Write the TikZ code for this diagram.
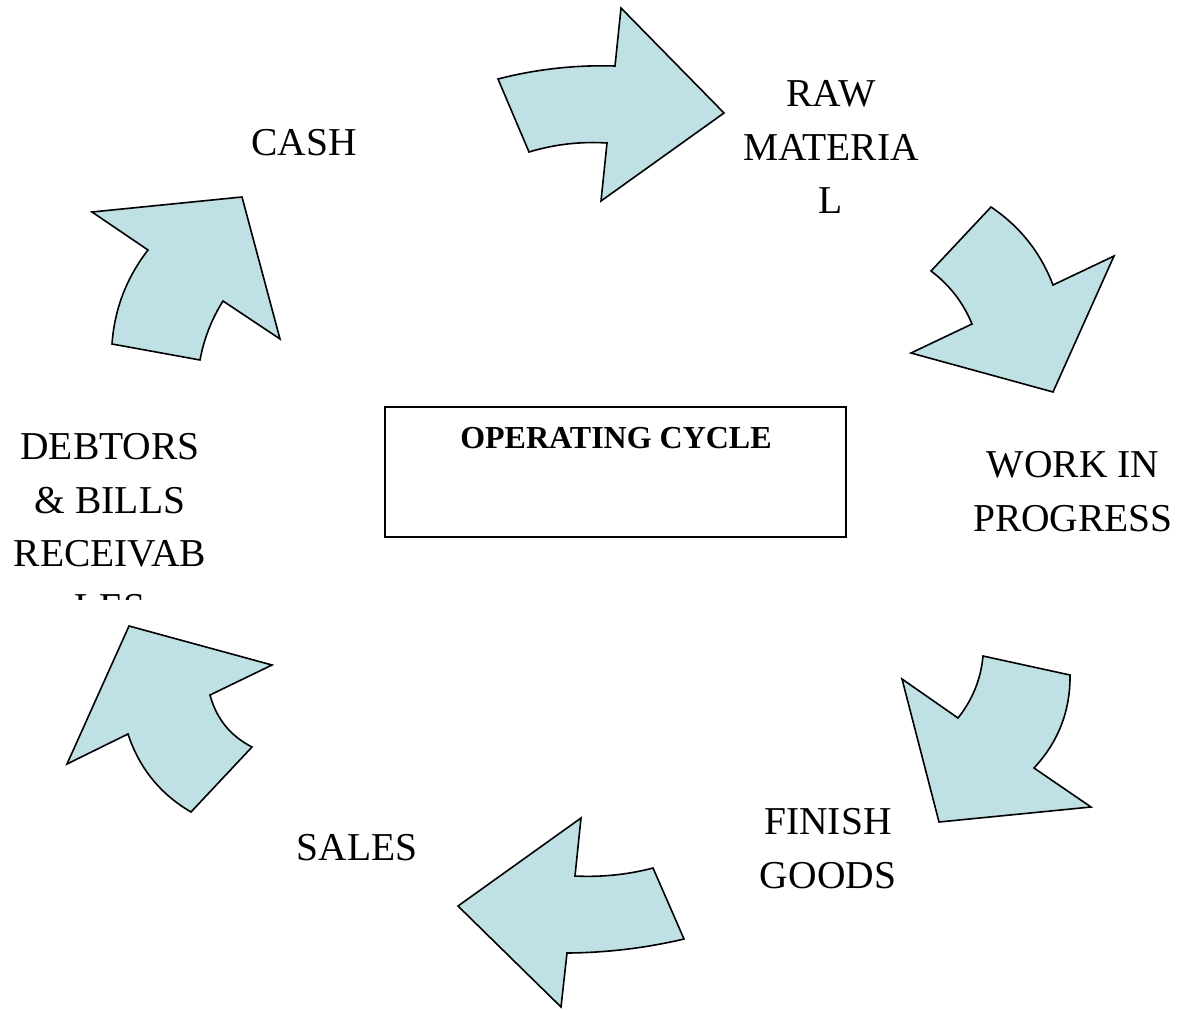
\documentclass[tikz,border=0pt]{standalone}
\usepackage{fontspec}
\setmainfont{Liberation Serif}
\definecolor{arrowfill}{RGB}{191,224,228}
\tikzset{
  cyclearrow/.style={draw=black, fill=arrowfill, line width=1.6pt, line join=miter},
  label/.style={align=center, anchor=base, inner sep=0pt, font=\fontsize{39.5}{53.5}\selectfont},
}
\begin{document}
\begin{tikzpicture}[x=1pt,y=-1pt]
\useasboundingbox (0,0) rectangle (1177,1009);
% arrow: cash -> raw material
\draw[cyclearrow] (498,79) .. controls (536.4,69.1) and (575.4,64.8) .. (615,66) -- (621,8) -- (724,113) -- (601,201) -- (607,143) .. controls (580.5,141.3) and (554.5,144.3) .. (529,152) -- cycle;
% arrow: raw material -> work in progress
\draw[cyclearrow] (991,207) .. controls (1019.9,226.5) and (1040.6,252.5) .. (1053,285) -- (1114,256) -- (1053,392) -- (911,353) -- (972,324) .. controls (963.2,302.6) and (949.5,284.9) .. (931,271) -- cycle;
% arrow: work in progress -> finish goods
\draw[cyclearrow] (1070,675) -- (983,656) .. controls (980.9,679.1) and (972.5,699.8) .. (958,718) -- (902,679) -- (939,822) -- (1091,807) -- (1034,768) .. controls (1058.4,741.8) and (1070.4,710.8) .. (1070,675) -- cycle;
% arrow: finish goods -> sales
\draw[cyclearrow] (581,818) -- (575,876) .. controls (601.4,877.3) and (627.4,874.7) .. (653,868) -- (684,939) .. controls (645.5,948.1) and (606.5,952.7) .. (567,953) -- (561,1007) -- (458,906) -- cycle;
% arrow: sales -> debtors
\draw[cyclearrow] (129,626) -- (272,665) -- (210,695) .. controls (216.3,718.5) and (230.3,735.9) .. (252,747) -- (191,812) .. controls (160.1,793.9) and (139.1,767.9) .. (128,734) -- (67,764) -- cycle;
% arrow: debtors -> cash
\draw[cyclearrow] (92,212) -- (242,197) -- (280,339) -- (223,301) .. controls (211.6,319.2) and (203.9,338.9) .. (200,360) -- (112,344) .. controls (114.5,309) and (126.5,277.7) .. (148,250) -- cycle;
% central box
\node[draw=black, line width=1.2pt, minimum width=461pt, minimum height=130pt, inner sep=0pt] (box) at (615.5,472) {};
\node[anchor=base, inner sep=0pt, font=\fontsize{32}{38}\selectfont\bfseries] (title) at (616,448) {OPERATING CYCLE};
% labels (anchor base = baseline of last line)
\node[label] (cash) at (304,155.5) {CASH};
\node[label] (raw) at (831,213.5) {RAW\\MATERIA\\L};
\node[label] (wip) at (1073,531) {WORK IN\\PROGRESS};
\node[label] (fin) at (828,888) {FINISH\\GOODS};
\node[label] (sales) at (357,860) {SALES};
\begin{scope}
\clip (0,400) rectangle (240,599);
\node[label] (debt) at (110,620) {DEBTORS\\\& BILLS\\RECEIVAB\\LES};
\end{scope}
\end{tikzpicture}
\end{document}
